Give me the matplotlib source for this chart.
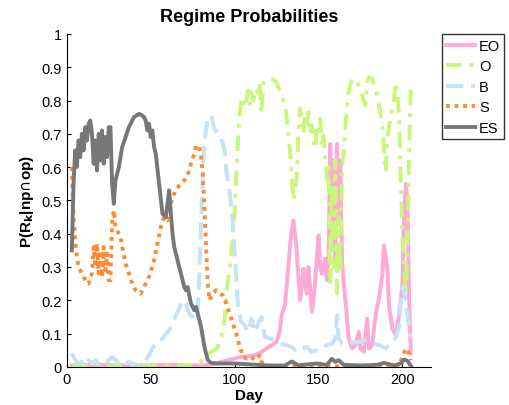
import matplotlib
matplotlib.use("Agg")
import matplotlib.pyplot as plt

# datos (dia, probabilidad)
es_day = [3, 4, 5, 6, 7, 8, 9, 10, 11, 12, 13, 14, 15, 16, 17, 18, 19, 20, 21, 22, 23, 24, 25, 26,
          27, 28, 29, 31, 33, 35, 37, 40, 43, 45, 46, 47, 48, 49, 50, 51, 52, 53, 55, 57, 59, 60, 61,
          62, 63, 64, 66, 68, 70, 71, 72, 74, 76, 77, 78, 80, 82, 84, 86, 90, 100, 107, 120, 130,
          134, 138, 145, 149, 155, 158, 160, 162, 165, 175, 185, 189, 195, 199, 201, 203, 205]
es_val = [0.35, 0.55, 0.65, 0.60, 0.68, 0.63, 0.70, 0.65, 0.72, 0.68, 0.73, 0.74, 0.70, 0.61, 0.68,
          0.59, 0.70, 0.62, 0.71, 0.61, 0.69, 0.63, 0.72, 0.72, 0.55, 0.49, 0.56, 0.60, 0.66, 0.69,
          0.72, 0.75, 0.76, 0.755, 0.75, 0.74, 0.71, 0.73, 0.69, 0.71, 0.66, 0.64, 0.55, 0.46, 0.45,
          0.49, 0.53, 0.46, 0.40, 0.36, 0.32, 0.28, 0.24, 0.23, 0.24, 0.19, 0.17, 0.18, 0.16, 0.12,
          0.06, 0.02, 0.012, 0.01, 0.01, 0.008, 0.004, 0.004, 0.016, 0.005, 0.008, 0.01, 0.006,
          0.024, 0.015, 0.02, 0.006, 0.004, 0.006, 0.012, 0.004, 0.01, 0.022, 0.018, 0.003]

s_day = [3, 4, 5, 6, 7, 8, 10, 12, 13, 14, 15, 16, 17, 18, 19, 20, 21, 22, 23, 24, 25, 26, 27, 28,
         29, 30, 32, 33, 35, 37, 39, 41, 44, 46, 49, 52, 54, 56, 58, 60, 61, 63, 65, 67, 70, 72, 74,
         76, 77, 79, 80, 81, 82, 83, 84, 85, 87, 89, 91, 93, 95, 97, 99, 101, 103, 105, 107, 110,
         112, 115, 116, 118, 130, 150, 180, 198, 200, 202, 204, 205]
s_val = [0.60, 0.45, 0.38, 0.33, 0.30, 0.29, 0.27, 0.25, 0.25, 0.27, 0.28, 0.36, 0.30, 0.37, 0.28,
         0.35, 0.27, 0.36, 0.29, 0.34, 0.26, 0.26, 0.43, 0.47, 0.42, 0.41, 0.39, 0.36, 0.31, 0.28,
         0.25, 0.23, 0.22, 0.24, 0.27, 0.32, 0.37, 0.42, 0.45, 0.44, 0.47, 0.51, 0.53, 0.545, 0.56,
         0.575, 0.61, 0.64, 0.665, 0.66, 0.63, 0.58, 0.48, 0.36, 0.25, 0.20, 0.22, 0.23, 0.22, 0.215,
         0.19, 0.16, 0.13, 0.10, 0.06, 0.03, 0.025, 0.03, 0.02, 0.035, 0.015, 0.003, 0.002, 0.002,
         0.002, 0.003, 0.03, 0.055, 0.04, 0.02]

b_day = [3, 5, 7, 9, 11, 13, 15, 17, 19, 21, 23, 25, 27, 29, 31, 33, 35, 37, 40, 43, 45, 47, 49,
         51, 53, 55, 57, 59, 61, 63, 65, 67, 69, 71, 73, 75, 77, 78, 79, 80, 81, 82, 84, 86, 88, 90,
         92, 94, 95, 97, 98, 99, 100, 101, 102, 104, 106, 108, 110, 112, 114, 116, 118, 121, 124,
         127, 131, 134, 137, 140, 143, 146, 149, 152, 155, 158, 160, 161, 162, 164, 167, 171, 175,
         178, 181, 184, 187, 190, 193, 196, 198, 199, 200, 202, 203, 204, 205]
b_val = [0.04, 0.02, 0.01, 0.015, 0.005, 0.02, 0.01, 0.02, 0.008, 0.015, 0.01, 0.02, 0.03, 0.02,
         0.012, 0.02, 0.01, 0.015, 0.008, 0.005, 0.003, 0.02, 0.035, 0.055, 0.07, 0.08, 0.085, 0.10,
         0.11, 0.13, 0.155, 0.175, 0.20, 0.19, 0.16, 0.15, 0.17, 0.16, 0.28, 0.43, 0.58, 0.68, 0.745,
         0.755, 0.715, 0.70, 0.685, 0.655, 0.59, 0.525, 0.485, 0.425, 0.345, 0.265, 0.185, 0.135,
         0.125, 0.105, 0.145, 0.105, 0.13, 0.15, 0.09, 0.085, 0.08, 0.07, 0.065, 0.06, 0.045, 0.055,
         0.06, 0.045, 0.05, 0.055, 0.065, 0.07, 0.085, 0.155, 0.085, 0.07, 0.065, 0.075, 0.075, 0.08,
         0.078, 0.068, 0.064, 0.055, 0.07, 0.088, 0.12, 0.19, 0.24, 0.20, 0.16, 0.11, 0.09]

o_day = [3, 20, 40, 60, 75, 80, 83, 86, 88, 90, 92, 94, 96, 97, 98, 99, 100, 101, 102, 103, 104,
         105, 106, 107, 108, 109, 110, 111, 113, 114, 115, 116, 117, 118, 120, 122, 124, 125, 126,
         128, 129, 130, 131, 132, 133, 134, 135, 136, 137, 138, 139, 140, 141, 142, 143, 144, 145,
         146, 147, 148, 149, 150, 151, 152, 153, 154, 155, 156, 157, 158, 159, 160, 161, 162, 163,
         164, 165, 166, 167, 168, 170, 172, 173, 175, 177, 178, 179, 180, 182, 184, 186, 188, 189,
         190, 191, 193, 195, 196, 197, 198, 199, 200, 201, 202, 203, 204, 205]
o_val = [0.003, 0.002, 0.004, 0.003, 0.005, 0.015, 0.035, 0.045, 0.05, 0.06, 0.09, 0.14, 0.26, 0.29,
         0.34, 0.42, 0.46, 0.58, 0.68, 0.755, 0.80, 0.81, 0.78, 0.80, 0.83, 0.79, 0.825, 0.80, 0.835,
         0.82, 0.845, 0.76, 0.85, 0.86, 0.865, 0.865, 0.86, 0.855, 0.84, 0.815, 0.80, 0.79, 0.75, 0.70,
         0.65, 0.57, 0.50, 0.53, 0.57, 0.70, 0.775, 0.74, 0.70, 0.76, 0.72, 0.765, 0.70, 0.725, 0.68,
         0.655, 0.72, 0.705, 0.745, 0.665, 0.695, 0.625, 0.565, 0.60, 0.25, 0.55, 0.30, 0.62, 0.22,
         0.45, 0.28, 0.60, 0.65, 0.72, 0.78, 0.83, 0.865, 0.86, 0.855, 0.835, 0.80, 0.785, 0.855,
         0.87, 0.865, 0.835, 0.785, 0.725, 0.66, 0.585, 0.685, 0.755, 0.805, 0.855, 0.82, 0.755,
         0.56, 0.40, 0.30, 0.22, 0.35, 0.65, 0.84]

eo_day = [3, 20, 40, 60, 80, 88, 92, 96, 100, 104, 108, 112, 116, 119, 122, 125, 127, 128, 130, 131,
          132, 133, 134, 135, 136, 137, 138, 139, 140, 141, 142, 143, 144, 145, 146, 147, 148, 149,
          150, 151, 152, 153, 154, 155, 156, 157, 158, 159, 160, 161, 162, 163, 164, 165, 166, 167,
          168, 170, 172, 174, 175, 177, 179, 180, 182, 184, 186, 188, 189, 190, 191, 192, 194, 196,
          198, 200, 201, 202, 203, 204, 205]
eo_val = [0.005, 0.006, 0.004, 0.006, 0.004, 0.008, 0.015, 0.02, 0.025, 0.03, 0.032, 0.035, 0.045,
          0.055, 0.065, 0.075, 0.11, 0.155, 0.185, 0.24, 0.30, 0.36, 0.41, 0.44, 0.40, 0.35, 0.27,
          0.20, 0.24, 0.295, 0.25, 0.22, 0.30, 0.24, 0.165, 0.20, 0.255, 0.33, 0.395, 0.30, 0.28,
          0.30, 0.325, 0.26, 0.32, 0.67, 0.38, 0.62, 0.30, 0.67, 0.45, 0.62, 0.32, 0.25, 0.20, 0.14,
          0.085, 0.055, 0.065, 0.105, 0.055, 0.045, 0.145, 0.055, 0.065, 0.155, 0.205, 0.275, 0.365,
          0.33, 0.30, 0.185, 0.115, 0.095, 0.155, 0.25, 0.45, 0.55, 0.50, 0.20, 0.04]

plt.rcParams['font.family'] = ['Liberation Sans', 'DejaVu Sans']

fig = plt.figure(figsize=(5.10, 4.06), dpi=100)
ax = fig.add_axes([0.131, 0.094, 0.714, 0.820])

lw = 2.8
ax.plot(eo_day, eo_val, color='#ffaad5', lw=lw, label='EO')
ax.plot(o_day, o_val, color='#c8f77a', lw=lw, ls=(0, (4, 2, 1, 2)), label='O')
ax.plot(b_day, b_val, color='#c4e2fa', lw=lw, ls=(0, (4.5, 2)), label='B')
ax.plot(s_day, s_val, color='#fb8c35', lw=lw, ls=(0, (1, 1.2)), label='S')
ax.plot(es_day, es_val, color='#777777', lw=lw, label='ES')

ax.set_xlim(0, 217)
ax.set_ylim(0, 1)
ax.set_xticks([0, 50, 100, 150, 200])
ax.set_yticks([0, 0.1, 0.2, 0.3, 0.4, 0.5, 0.6, 0.7, 0.8, 0.9, 1])
ax.set_yticklabels(['0', '0.1', '0.2', '0.3', '0.4', '0.5', '0.6', '0.7', '0.8', '0.9', '1'])
ax.tick_params(direction='in', length=3, labelsize=10.5, width=0.8)
ax.spines['top'].set_visible(False)
ax.spines['right'].set_visible(False)

ax.set_title('Regime Probabilities', fontsize=13, fontweight='bold', pad=9)
ax.set_xlabel('Day', fontsize=11, fontweight='bold', labelpad=2)
ax.set_ylabel(r'P(R$_\mathbf{k}$|np$\cap$op)', fontsize=11, fontweight='bold', labelpad=4)

leg = fig.legend(loc='upper left', bbox_to_anchor=(0.866, 0.913), fontsize=10.5,
                 handlelength=2.0, handletextpad=0.25, borderpad=0.3, labelspacing=0.45,
                 frameon=True, fancybox=False, borderaxespad=0)
leg.get_frame().set_edgecolor('black')
leg.get_frame().set_linewidth(1)

fig.savefig('out.png', dpi=100)
